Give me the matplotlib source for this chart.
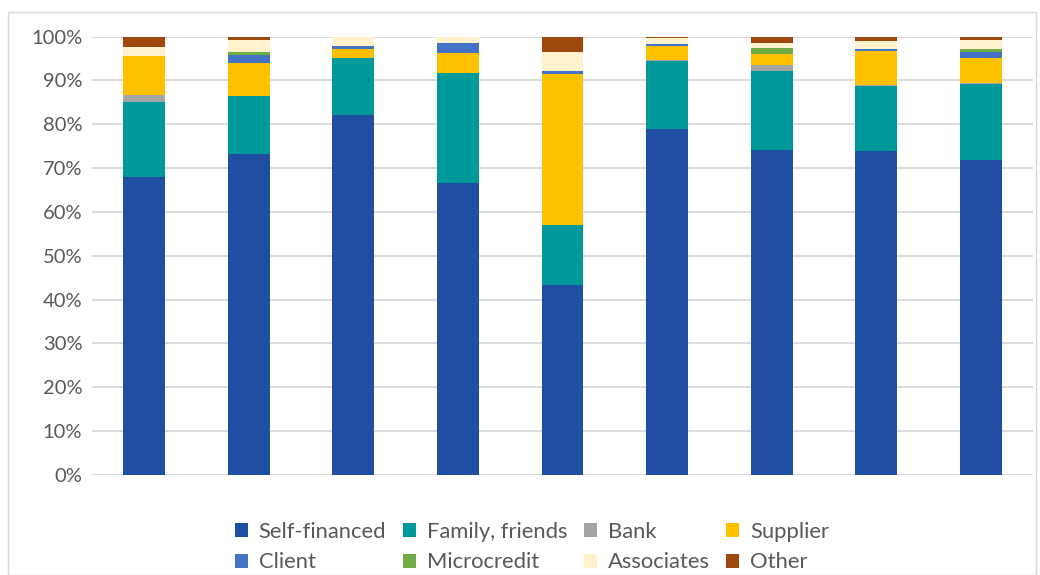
import matplotlib.pyplot as plt
from matplotlib.patches import Rectangle
from matplotlib.ticker import PercentFormatter
import numpy as np

plt.rcParams['font.family'] = ['Lato', 'DejaVu Sans']

groups = ['1', '2', '3', '4', '5', '6', '7', '8', '9']
series = ['Self-financed', 'Family, friends', 'Bank', 'Supplier',
          'Client', 'Microcredit', 'Associates', 'Other']
colors = ['#1f4ea3', '#009999', '#a5a5a5', '#ffc000',
          '#4472c4', '#70ad47', '#fff2cc', '#9e480e']

# shares in percent, bottom to top
self_financed = [68.0, 73.3, 82.3, 66.6, 43.3, 79.1, 74.1, 73.9, 71.8]
family = [17.1, 13.1, 13.0, 25.1, 13.7, 15.5, 18.0, 14.8, 17.4]
bank = [1.6, 0.0, 0.0, 0.0, 0.0, 0.3, 1.4, 0.2, 0.2]
supplier = [8.9, 7.6, 2.1, 4.5, 34.4, 3.2, 2.5, 7.8, 5.7]
client = [0.0, 1.8, 0.7, 2.3, 0.7, 0.4, 0.0, 0.4, 1.4]
microcredit = [0.0, 0.7, 0.0, 0.0, 0.0, 0.0, 1.4, 0.0, 0.6]
associates = [2.0, 2.7, 2.1, 1.5, 4.4, 1.4, 1.1, 1.9, 2.1]
other = [2.4, 0.8, 0.0, 0.0, 3.5, 0.3, 1.5, 1.0, 0.8]

data = np.array([self_financed, family, bank, supplier,
                 client, microcredit, associates, other])
data = data / data.sum(axis=0)

fig = plt.figure(figsize=(10.4, 5.75), dpi=100)
ax = fig.add_axes([92 / 1040, 1 - 475 / 575, 941 / 1040, 438.5 / 575])

x = np.arange(len(groups))
bottom = np.zeros(len(groups))
handles = []
for name, vals, c in zip(series, data, colors):
    b = ax.bar(x, vals, 0.4, bottom=bottom, color=c, label=name, zorder=3)
    handles.append(b)
    bottom += vals

ax.set_xlim(-0.5, len(groups) - 0.5)
ax.set_ylim(0, 1)
ax.set_yticks(np.arange(0, 1.01, 0.1))
ax.yaxis.set_major_formatter(PercentFormatter(1.0, decimals=0))
ax.grid(axis='y', color='#d9d9d9', linewidth=1.3, zorder=0)
ax.set_xticks([])
for s in ax.spines.values():
    s.set_visible(False)
ax.tick_params(axis='y', length=0, pad=7, labelsize=14.5, labelcolor='#595959')

fig.patches.append(Rectangle((8 / 1040, 0), 1028 / 1040, 1 - 12 / 575,
                             transform=fig.transFigure, fill=False,
                             edgecolor='#d9d9d9', linewidth=1))

# legend fills column by column, so reorder to read row by row
order = [0, 4, 1, 5, 2, 6, 3, 7]
leg = fig.legend([handles[i] for i in order], [series[i] for i in order],
                 loc='center', bbox_to_anchor=(532 / 1040, 1 - 547 / 575),
                 ncol=4, frameon=False, fontsize=15.8, labelcolor='#595959',
                 handlelength=0.6, handleheight=0.6, handletextpad=0.5,
                 columnspacing=0.75, labelspacing=0.5, borderpad=0)

fig.savefig('out.png', dpi=100)
